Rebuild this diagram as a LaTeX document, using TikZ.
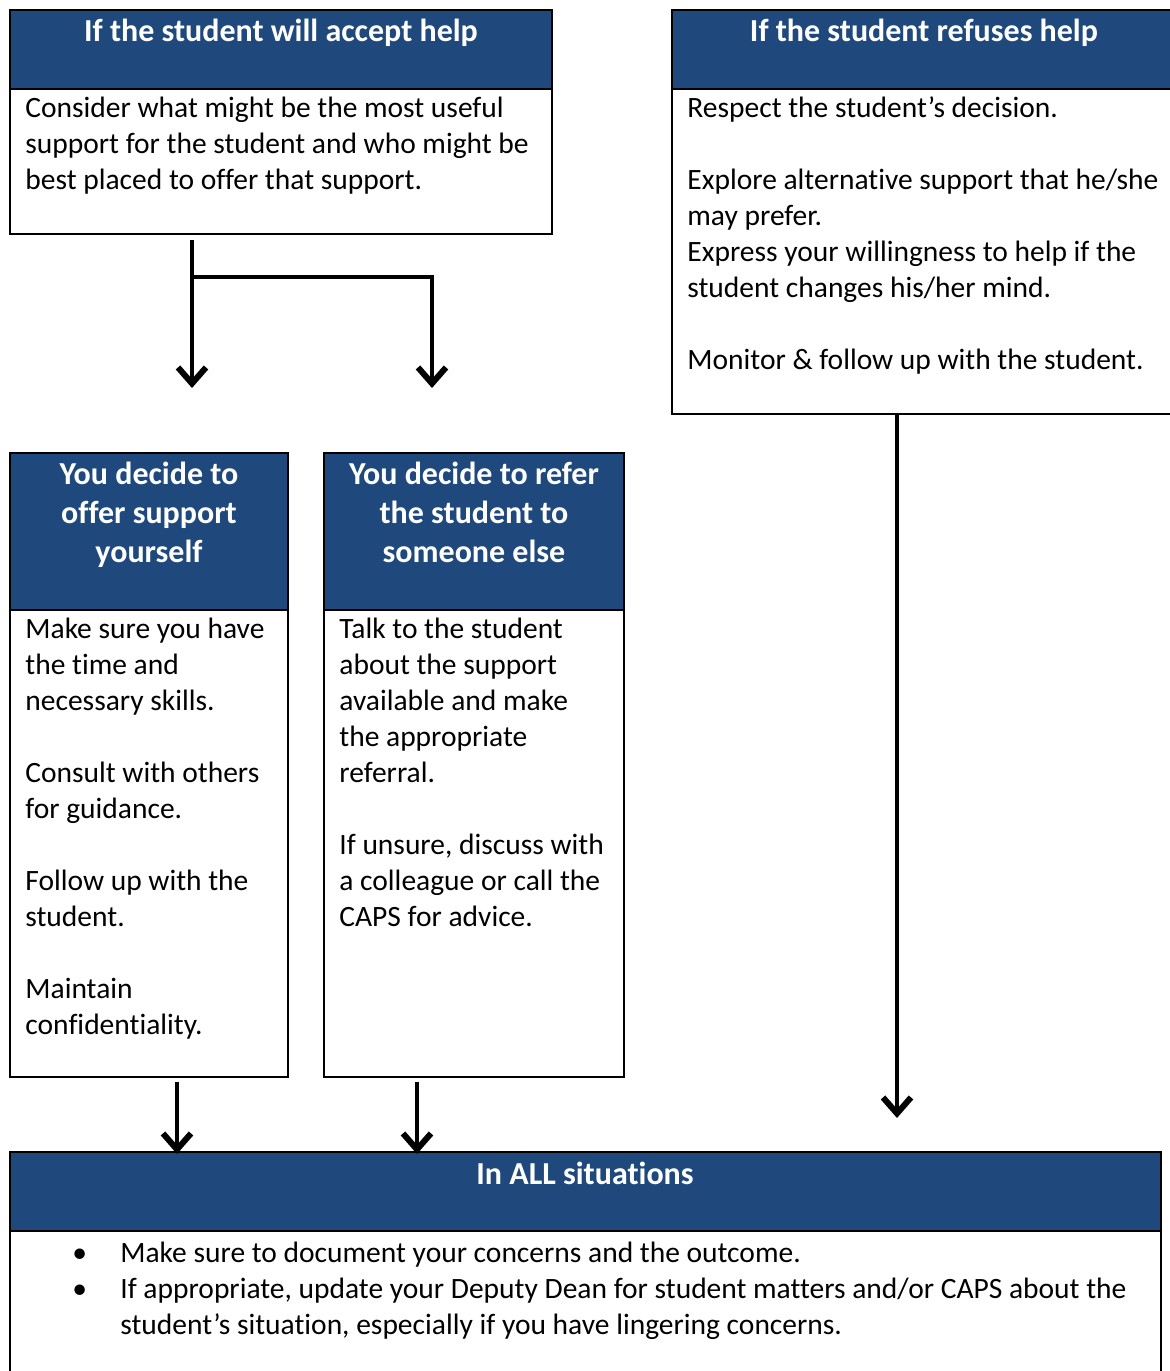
\documentclass[tikz,border=0pt]{standalone}
\usepackage{fontspec}
\setmainfont{Carlito}[Ligatures={NoCommon,NoDiscretionary}]
\usetikzlibrary{arrows.meta,fit}
\definecolor{headblue}{RGB}{31,73,125}
\tikzset{
  box/.style={draw,line width=1pt,inner sep=0pt,outer sep=0pt},
  headbox/.style={box,fill=headblue},
  headtext/.style={text=white,font=\fontsize{16}{19.5}\selectfont\bfseries,align=center,inner sep=0pt,anchor=north},
  bodytext/.style={font=\fontsize{14.75}{18}\selectfont,align=left,inner sep=0pt,anchor=north west},
  flow/.style={line width=2.3pt,-{Straight Barb[length=8pt,width=14pt,line width=3pt]}}
}
\begin{document}
\begin{tikzpicture}[x=0.5pt,y=-0.5pt]
\useasboundingbox (0,0) rectangle (1169,1371);
% accept help
\node[box,fit={(10,10)(552,234)}] (acc) {};
\node[headbox,fit={(10,10)(552,89)}] (acchead) {};
\node[headtext] (acctitle) at (281,14) {\strut If the student will accept help};
\node[bodytext] (acctext) at (25,92) {\strut Consider what might be the most useful\\support for the student and who might be\\best placed to offer that support.};
% refuses help
\node[box,fit={(672,10)(1176,414)}] (ref) {};
\node[headbox,fit={(672,10)(1176,89)}] (refhead) {};
\node[headtext] (reftitle) at (924,14) {\strut If the student refuses help};
\node[bodytext] (reftext) at (687,92) {\strut Respect the student’s decision.\\[18pt]Explore alternative support that he/she\\may prefer.\\Express your willingness to help if the\\student changes his/her mind.\\[18pt]Monitor \& follow up with the student.};
% offer support yourself
\node[box,fit={(10,453)(288,1077)}] (own) {};
\node[headbox,fit={(10,453)(288,610)}] (ownhead) {};
\node[headtext] (owntitle) at (149,457) {\strut You decide to\\offer support\\yourself};
\node[bodytext] (owntext) at (25,613) {\strut Make sure you have\\the time and\\necessary skills.\\[18pt]Consult with others\\for guidance.\\[18pt]Follow up with the\\student.\\[18pt]Maintain\\confidentiality.};
% refer to someone else
\node[box,fit={(324,453)(624,1077)}] (refer) {};
\node[headbox,fit={(324,453)(624,610)}] (referhead) {};
\node[headtext] (refertitle) at (474,457) {\strut You decide to refer\\the student to\\someone else};
\node[bodytext] (refertext) at (339,613) {\strut Talk to the student\\about the support\\available and make\\the appropriate\\referral.\\[18pt]If unsure, discuss with\\a colleague or call the\\CAPS for advice.};
% all situations
\node[box,fit={(10,1152)(1161,1380)}] (all) {};
\node[headbox,fit={(10,1152)(1161,1231)}] (allhead) {};
\node[headtext] (alltitle) at (585,1157) {\strut In ALL situations};
\node[bodytext] (alltext) at (72,1237) {\begin{tabular}{@{}p{24pt}@{}l@{}}
\textbullet & Make sure to document your concerns and the outcome.\\
\textbullet & If appropriate, update your Deputy Dean for student matters and/or CAPS about the\\
 & student’s situation, especially if you have lingering concerns.
\end{tabular}};
%%%%
\coordinate (accfoot) at ([xshift=91pt,yshift=-3pt]acc.south west);
\draw[flow] (accfoot) -- ([yshift=32.5pt]ownhead.north -| accfoot);
\draw[flow] (accfoot |- 0,277) -| ([xshift=-21pt,yshift=32.5pt]referhead.north);
\draw[flow] ([xshift=112.5pt]ref.south west) -- ([yshift=17pt]allhead.north -| 897,0);
\draw[flow] ([xshift=83.5pt,yshift=-2.5pt]own.south west) -- ([yshift=-1pt]allhead.north -| 177,0);
\draw[flow] ([xshift=46.5pt,yshift=-2.5pt]refer.south west) -- ([yshift=-1pt]allhead.north -| 417,0);
\end{tikzpicture}
\end{document}
